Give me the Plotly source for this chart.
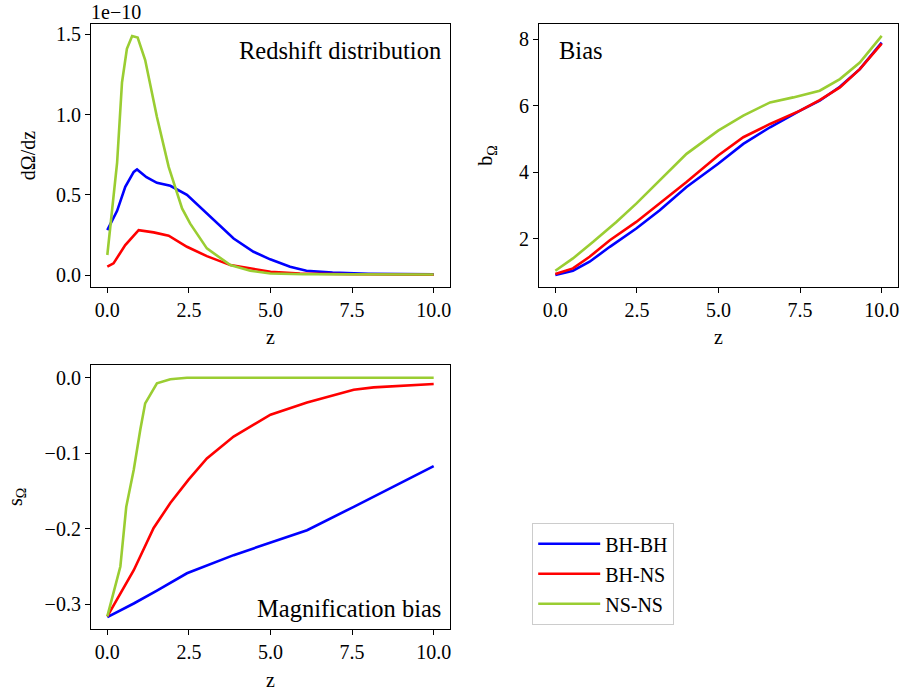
import plotly.graph_objects as go

# ---- Redshift distribution (units of 1e-10) ----
z_rd_bhbh = [0.0, 0.3, 0.55, 0.81, 0.91, 1.2, 1.52, 1.93, 2.44, 3.05, 3.87, 4.48, 4.99, 5.6, 6.1, 6.9, 8.0, 10.0]
rd_bhbh = [0.28, 0.40, 0.55, 0.643, 0.658, 0.61, 0.575, 0.556, 0.50, 0.384, 0.228, 0.145, 0.098, 0.052, 0.027, 0.015, 0.008, 0.004]
z_rd_bhns = [0.0, 0.19, 0.55, 0.96, 1.42, 1.88, 2.44, 3.05, 3.77, 4.38, 5.0, 5.9, 7.5, 10.0]
rd_bhns = [0.052, 0.073, 0.187, 0.28, 0.266, 0.245, 0.176, 0.118, 0.062, 0.04, 0.021, 0.01, 0.005, 0.002]
z_rd_nsns = [0.0, 0.3, 0.45, 0.6, 0.76, 0.93, 1.16, 1.52, 1.88, 2.29, 2.54, 3.05, 3.77, 4.38, 5.0, 6.0, 10.0]
rd_nsns = [0.125, 0.70, 1.20, 1.41, 1.49, 1.48, 1.34, 0.985, 0.674, 0.415, 0.32, 0.166, 0.062, 0.027, 0.01, 0.005, 0.003]

# ---- Bias ----
z_b = [0.0, 0.54, 1.05, 1.67, 2.48, 3.2, 4.02, 4.99, 5.76, 6.58, 7.5, 8.1, 8.72, 9.33, 10.0]
b_bhbh = [0.9, 1.03, 1.3, 1.75, 2.3, 2.85, 3.55, 4.25, 4.85, 5.35, 5.85, 6.15, 6.57, 7.1, 7.9]
b_bhns = [0.93, 1.1, 1.45, 1.95, 2.5, 3.05, 3.7, 4.5, 5.05, 5.45, 5.85, 6.17, 6.55, 7.1, 7.87]
z_b_nsns = [0.0, 0.54, 1.16, 1.87, 2.48, 3.2, 4.02, 4.99, 5.76, 6.58, 7.29, 8.1, 8.72, 9.33, 10.0]
b_nsns = [1.03, 1.4, 1.9, 2.5, 3.05, 3.75, 4.55, 5.25, 5.7, 6.1, 6.25, 6.45, 6.8, 7.3, 8.1]

# ---- Magnification bias ----
z_s_bhbh = [0.0, 0.81, 1.52, 2.44, 3.87, 5.0, 6.12, 7.55, 10.0]
s_bhbh = [-0.317, -0.299, -0.282, -0.259, -0.235, -0.218, -0.202, -0.171, -0.117]
z_s_bhns = [0.0, 0.3, 0.81, 1.42, 1.93, 2.49, 3.05, 3.87, 5.0, 6.12, 7.55, 8.16, 10.0]
s_bhns = [-0.316, -0.294, -0.255, -0.199, -0.166, -0.135, -0.107, -0.078, -0.049, -0.033, -0.016, -0.0128, -0.0084]
z_s_nsns = [0.0, 0.19, 0.4, 0.58, 0.81, 1.01, 1.16, 1.52, 1.93, 2.44, 10.0]
s_nsns = [-0.316, -0.285, -0.25, -0.171, -0.122, -0.069, -0.034, -0.0075, -0.002, 0.0, 0.0]

names = ["BH-BH", "BH-NS", "NS-NS"]
colors = ["#0000ff", "#ff0000", "#9acd32"]
FONT = "'Liberation Serif', 'Times New Roman', Times, serif"
LW = 2.6
FS = 20
FA = 24.5

fig = go.Figure()

panels = [
    ("x", "y", [(z_rd_bhbh, rd_bhbh), (z_rd_bhns, rd_bhns), (z_rd_nsns, rd_nsns)]),
    ("x2", "y2", [(z_b, b_bhbh), (z_b, b_bhns), (z_b_nsns, b_nsns)]),
    ("x3", "y3", [(z_s_bhbh, s_bhbh), (z_s_bhns, s_bhns), (z_s_nsns, s_nsns)]),
]
for pi, (xa, ya, series) in enumerate(panels):
    for i, (zz, vv) in enumerate(series):
        fig.add_trace(go.Scatter(
            x=zz, y=vv, mode="lines", name=names[i],
            line=dict(color=colors[i], width=LW),
            xaxis=xa, yaxis=ya, showlegend=(pi == 0), legendgroup=names[i],
        ))

axis_common = dict(
    showline=True, mirror=True, linecolor="black", linewidth=1.2,
    ticks="outside", ticklen=5, tickwidth=1.2, tickcolor="black",
    showgrid=False, zeroline=False, automargin=False,
    tickfont=dict(family=FONT, size=FS, color="black"),
    title_font=dict(family=FONT, size=FS, color="black"),
)
xticks = dict(tickvals=[0, 2.5, 5, 7.5, 10], ticktext=["0.0", "2.5", "5.0", "7.5", "10.0"])

d_x1 = [91 / 908, 450 / 908]
d_x2 = [539 / 908, 898 / 908]
d_ytop = [1 - 287 / 696, 1 - 24 / 696]
d_ybot = [1 - 629 / 696, 1 - 365 / 696]

fig.update_layout(
    width=908, height=696,
    margin=dict(l=0, r=0, t=0, b=0),
    paper_bgcolor="white", plot_bgcolor="white",
    font=dict(family=FONT, size=FS, color="black"),
    xaxis=dict(domain=d_x1, anchor="y", range=[-0.5, 10.5], title=dict(text="z", standoff=9), **xticks, **axis_common),
    yaxis=dict(domain=d_ytop, anchor="x", range=[-0.0745, 1.5645], title=dict(text="dΩ/dz", standoff=14),
               tickvals=[0, 0.5, 1.0, 1.5], ticktext=["0.0", "0.5", "1.0", "1.5"], **axis_common),
    xaxis2=dict(domain=d_x2, anchor="y2", range=[-0.5, 10.5], title=dict(text="z", standoff=9), **xticks, **axis_common),
    yaxis2=dict(domain=d_ytop, anchor="x2", range=[0.54, 8.46], title=dict(text="b<sub>Ω</sub>", standoff=20),
                tickvals=[2, 4, 6, 8], **axis_common),
    xaxis3=dict(domain=d_x1, anchor="y3", range=[-0.5, 10.5], title=dict(text="z", standoff=10), **xticks, **axis_common),
    yaxis3=dict(domain=d_ybot, anchor="x3", range=[-0.3328, 0.0168], title=dict(text="s<sub>Ω</sub>", standoff=16),
                tickvals=[-0.3, -0.2, -0.1, 0.0], ticktext=["−0.3", "−0.2", "−0.1", "0.0"], **axis_common),
    legend=dict(
        x=532 / 908, y=1 - 523 / 696, xanchor="left", yanchor="top",
        bordercolor="#cccccc", borderwidth=1.2, bgcolor="white",
        font=dict(family=FONT, size=FS, color="black"),
        traceorder="grouped", tracegroupgap=1, itemwidth=62,
    ),
    annotations=[
        dict(text="1e−10", xref="paper", yref="paper", x=89 / 908, y=1 - 12 / 696,
             xanchor="left", yanchor="middle", showarrow=False,
             font=dict(family=FONT, size=FS, color="black")),
        dict(text="Redshift distribution", xref="x domain", yref="y domain", x=0.98, y=0.96,
             xanchor="right", yanchor="top", showarrow=False,
             font=dict(family=FONT, size=FA, color="black")),
        dict(text="Bias", xref="x2 domain", yref="y2 domain", x=0.05, y=0.96,
             xanchor="left", yanchor="top", showarrow=False,
             font=dict(family=FONT, size=FA, color="black")),
        dict(text="Magnification bias", xref="x3 domain", yref="y3 domain", x=0.98, y=0.02,
             xanchor="right", yanchor="bottom", showarrow=False,
             font=dict(family=FONT, size=FA, color="black")),
    ],
)

fig.write_html("out.html", config={"displayModeBar": False},
               post_script="document.body.style.margin='0px';")
